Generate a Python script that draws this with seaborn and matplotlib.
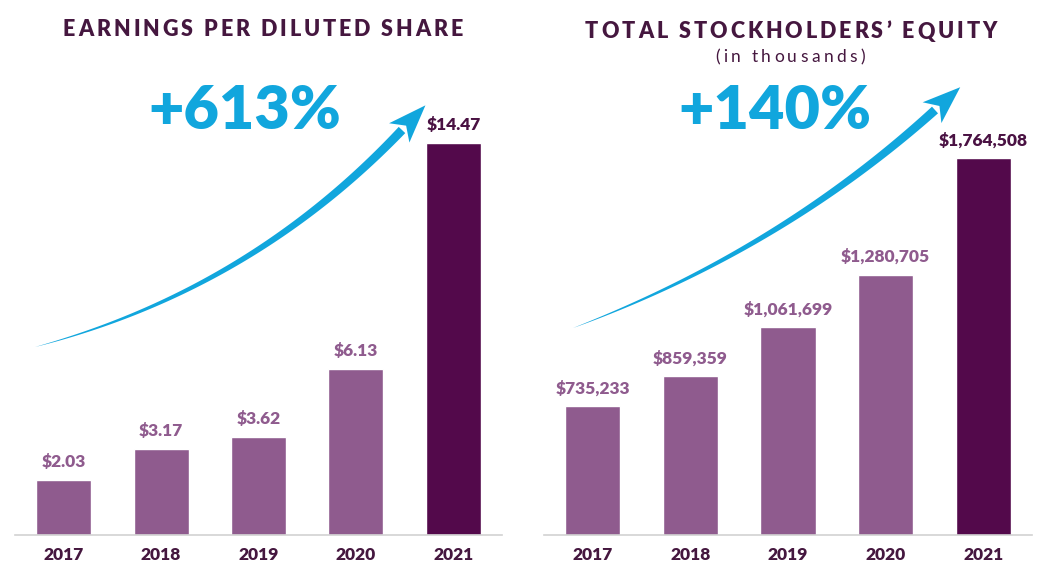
import numpy as np
import pandas as pd
import seaborn as sns
import matplotlib.pyplot as plt
from matplotlib.patches import Polygon
from matplotlib.font_manager import FontProperties

# data
years = ["2017", "2018", "2019", "2020", "2021"]
eps_values = [2.03, 3.17, 3.62, 6.13, 14.47]
eps_labels = ["$2.03", "$3.17", "$3.62", "$6.13", "$14.47"]
equity_values = [735233, 859359, 1061699, 1280705, 1764508]
equity_labels = ["$735,233", "$859,359", "$1,061,699", "$1,280,705", "$1,764,508"]

light = "#8f5b8e"
dark = "#53094b"
title_col = "#45173f"
blue = "#11a6dd"
bar_colors = [light, light, light, light, dark]
label_colors = [light, light, light, light, "#4a1243"]

sns.set_style("white")
plt.rcParams["font.family"] = ["Lato", "DejaVu Sans"]

W, H = 1053, 579
fig = plt.figure(figsize=(W / 100, H / 100), dpi=100)
renderer = fig.canvas.get_renderer()


def px_axes(x0, x1, ytop, ybot):
    return fig.add_axes([x0 / W, 1 - ybot / H, (x1 - x0) / W, (ybot - ytop) / H])


def draw_bars(ax, values, labels, ylim):
    df = pd.DataFrame({"year": years, "value": values})
    sns.barplot(data=df, x="year", y="value", hue="year", order=years,
                palette=bar_colors, width=0.565, legend=False, ax=ax, saturation=1)
    ax.set_xlim(-0.5, 4.5)
    ax.set_ylim(*ylim)
    ax.set_xlabel("")
    ax.set_ylabel("")
    ax.set_yticks([])
    for s in ["top", "left", "right"]:
        ax.spines[s].set_visible(False)
    ax.spines["bottom"].set_color("#d2d2d2")
    ax.spines["bottom"].set_linewidth(1.2)
    ax.tick_params(axis="x", length=0, pad=9, labelsize=12.5, labelcolor=title_col)
    for t in ax.get_xticklabels():
        t.set_fontweight("heavy")
    for i, (v, lab) in enumerate(zip(values, labels)):
        ax.annotate(lab, (i, v), xytext=(0, 7), textcoords="offset points",
                    ha="center", va="bottom", fontsize=12.5, fontweight="heavy",
                    color=label_colors[i])


ax1 = px_axes(15, 502, 60, 535)
draw_bars(ax1, eps_values, eps_labels, (0, 17.53))

ax2 = px_axes(544, 1032, 60, 535)
draw_bars(ax2, equity_values, equity_labels, (200000, 2171250))

# overlay in pixel coordinates for titles and arrows
ov = fig.add_axes([0, 0, 1, 1])
ov.set_xlim(0, W)
ov.set_ylim(H, 0)
ov.axis("off")


def spaced_text(xc, y, s, total_width, size, weight):
    # letter-spaced text: place each character, stretched to a total width
    fp = FontProperties(family=["Lato", "DejaVu Sans"], size=size, weight=weight)
    widths = [renderer.get_text_width_height_descent(c, fp, ismath=False)[0]
              for c in s]
    gap = (total_width - sum(widths)) / (len(s) - 1)
    x = xc - total_width / 2
    for c, w in zip(s, widths):
        ov.text(x, y, c, ha="left", va="center", fontproperties=fp, color=title_col)
        x += w + gap


spaced_text(263, 30, "EARNINGS PER DILUTED SHARE", 400, 15.5, "heavy")
spaced_text(791, 32, "TOTAL STOCKHOLDERS\u2019 EQUITY", 412, 15.5, "heavy")
spaced_text(790, 57, "(in thousands)", 150, 12.5, "normal")

ov.text(245, 111, "+613%", ha="center", va="center", fontsize=44,
        fontweight="heavy", color=blue)
ov.text(775, 111, "+140%", ha="center", va="center", fontsize=44,
        fontweight="heavy", color=blue)


def curved_arrow(p0, p1, p2, w_end=4.5, head_len=34, head_w=14):
    p0, p1, p2 = map(np.array, (p0, p1, p2))
    t = np.linspace(0, 1, 80)[:, None]
    pts = (1 - t) ** 2 * p0 + 2 * (1 - t) * t * p1 + t ** 2 * p2
    der = 2 * (1 - t) * (p1 - p0) + 2 * t * (p2 - p1)
    der = der / np.linalg.norm(der, axis=1)[:, None]
    nrm = np.column_stack([-der[:, 1], der[:, 0]])
    w = w_end * t ** 0.8
    left = pts + nrm * w
    right = pts - nrm * w
    shaft = np.vstack([left, right[::-1]])
    ov.add_patch(Polygon(shaft, closed=True, color=blue, lw=0))
    d = der[-1]
    n = nrm[-1]
    tip = p2 + d * head_len
    head = [tip, p2 + n * head_w - d * 4, p2 + d * 6, p2 - n * head_w - d * 4]
    ov.add_patch(Polygon(head, closed=True, color=blue, lw=0))


curved_arrow((35, 347), (250, 290), (402, 130))
curved_arrow((573, 328), (780, 250), (935, 110))

fig.savefig("out.png", dpi=100)
